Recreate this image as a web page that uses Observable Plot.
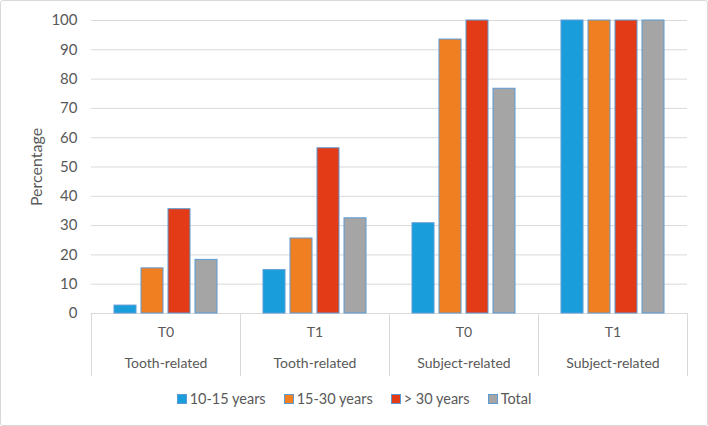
<!DOCTYPE html>
<html>
<head>
<meta charset="utf-8">
<script src="https://cdn.jsdelivr.net/npm/d3@7"></script>
<script src="https://cdn.jsdelivr.net/npm/@observablehq/plot@0.6"></script>
<style>
  html, body { margin: 0; padding: 0; background: #fff; }
  #wrap { position: relative; width: 708px; height: 426px; overflow: hidden; font-family: Lato, "Open Sans", sans-serif; }
  #border { position: absolute; left: 0; top: 0; width: 708px; height: 426px; box-sizing: border-box; border: 1.5px solid #d9d9d9; border-radius: 3px; pointer-events: none; }
  #legend { position: absolute; left: 0; top: 390px; width: 708px; display: flex; justify-content: center; gap: 18px; font-size: 14.5px; color: #595959; }
  #legend .item { display: flex; align-items: center; gap: 3px; }
  #legend .sw { width: 8px; height: 8px; border: 1px solid #5b9bd5; }
</style>
</head>
<body>
<div id="wrap"><div id="chart"></div><div id="legend"></div><div id="border"></div></div>
<script>
const timepoints = ["T0", "T1", "T0", "T1"];
const categories = ["Tooth-related", "Tooth-related", "Subject-related", "Subject-related"];
const series = ["10-15 years", "15-30 years", "> 30 years", "Total"];
const colors = ["#1a9ddb", "#f07f22", "#e33a18", "#a5a5a5"];
const values10to15 = [2.7, 14.8, 30.8, 100];
const values15to30 = [15.4, 25.6, 93.5, 100];
const valuesOver30 = [35.6, 56.4, 100, 100];
const valuesTotal = [18.3, 32.5, 76.7, 100];
const yTicks = [0, 10, 20, 30, 40, 50, 60, 70, 80, 90, 100];

const groupKeys = timepoints.map((t, i) => i + "|" + t + "|" + categories[i]);
const seriesValues = [values10to15, values15to30, valuesOver30, valuesTotal];
const data = [];
groupKeys.forEach((g, i) => series.forEach((s, j) => data.push({group: g, series: s, value: seriesValues[j][i]})));
const groups = groupKeys.map((g, i) => ({group: g, t: timepoints[i], c: categories[i]}));

const textColor = "#595959";
const plot = Plot.plot({
  width: 708,
  height: 385,
  marginTop: 20,
  marginBottom: 72,
  marginLeft: 90,
  marginRight: 20,
  style: {fontFamily: "Lato, 'Open Sans', sans-serif", fontSize: "15px", color: textColor, background: "transparent"},
  fx: {domain: groupKeys, paddingInner: 0, paddingOuter: 0, axis: null},
  x: {domain: series, paddingInner: 0.2, paddingOuter: 0.83, axis: null},
  y: {domain: [0, 100], ticks: yTicks, label: "Percentage", labelAnchor: "center", labelArrow: "none", labelOffset: 61, tickSize: 0, tickPadding: 14, grid: false},
  color: {domain: series, range: colors},
  marks: [
    Plot.gridY(yTicks, {stroke: "#d9d9d9", strokeOpacity: 1, strokeWidth: 1}),
    Plot.frame({anchor: "left", stroke: "#d9d9d9", insetTop: 293, insetBottom: -62}),
    Plot.frame({anchor: "right", stroke: "#d9d9d9", insetTop: 293, insetBottom: -62}),
    Plot.ruleY([0], {stroke: "#d9d9d9", strokeWidth: 1}),
    Plot.barY(data, {fx: "group", x: "series", y: "value", fill: "series", stroke: "#5b9bd5", strokeWidth: 1}),
    Plot.text(groups, {fx: "group", text: "t", frameAnchor: "bottom", dy: 23, fill: textColor, fontSize: 14}),
    Plot.text(groups, {fx: "group", text: "c", frameAnchor: "bottom", dy: 54, fill: textColor, fontSize: 14})
  ]
});
d3.select(plot).selectAll('[aria-label="y-axis label"] text').attr("font-size", 16);
document.getElementById("chart").appendChild(plot);

const legend = document.getElementById("legend");
series.forEach((s, i) => {
  const item = document.createElement("div");
  item.className = "item";
  const sw = document.createElement("span");
  sw.className = "sw";
  sw.style.background = colors[i];
  const lab = document.createElement("span");
  lab.textContent = s;
  item.appendChild(sw);
  item.appendChild(lab);
  legend.appendChild(item);
});
</script>
</body>
</html>
